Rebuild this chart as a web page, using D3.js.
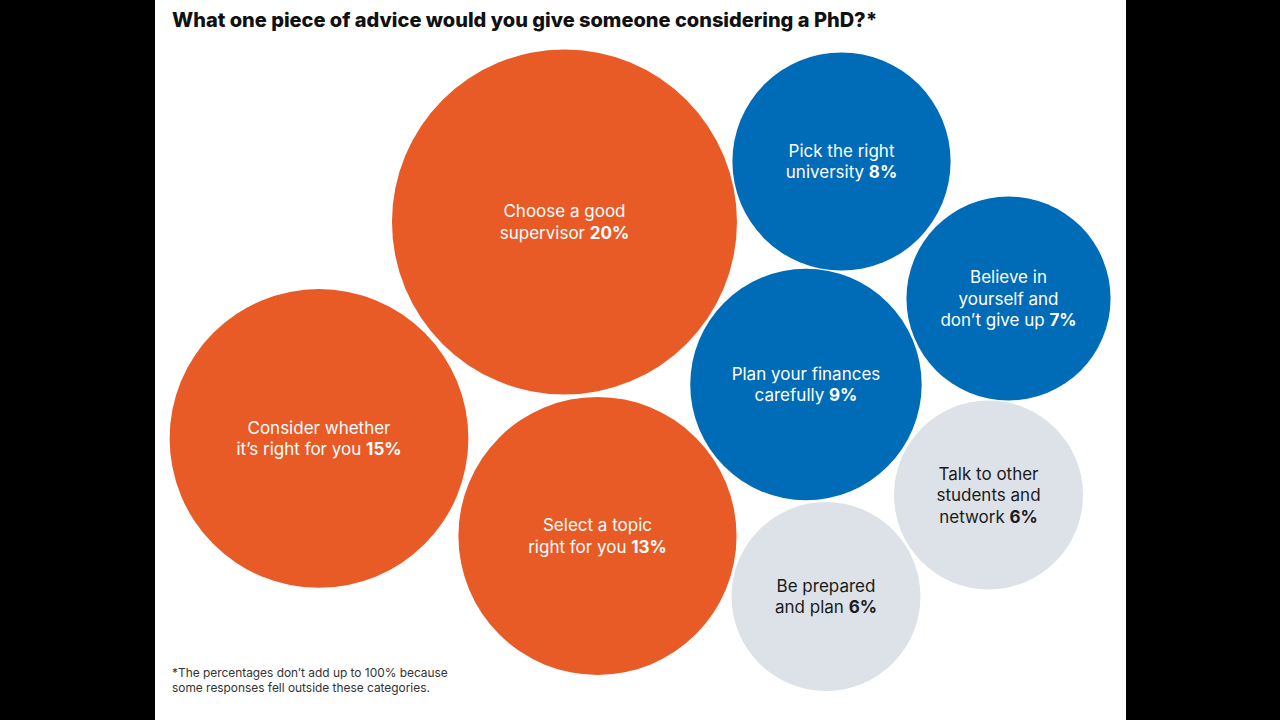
<!DOCTYPE html>
<html>
<head>
<meta charset="utf-8">
<script src="https://cdn.jsdelivr.net/npm/d3@7"></script>
<style>
  html, body { margin: 0; padding: 0; background: #000; }
  svg { display: block; }
</style>
</head>
<body>
<svg width="1280" height="720"></svg>
<script>
// Advice categories, share of responses (%) and colour group
var categories = [
  ["Choose a good", "supervisor"],
  ["Consider whether", "it\u2019s right for you"],
  ["Select a topic", "right for you"],
  ["Pick the right", "university"],
  ["Believe in", "yourself and", "don\u2019t give up"],
  ["Plan your finances", "carefully"],
  ["Talk to other", "students and", "network"],
  ["Be prepared", "and plan"]
];
var values = [20, 15, 13, 8, 7, 9, 6, 6];
var groups = ["orange", "orange", "orange", "blue", "blue", "blue", "grey", "grey"];

// bubble placement in panel units (0-100 across, 0-100 down)
var packX = [42.17, 16.89, 45.57, 70.70, 87.90, 67.04, 85.84, 69.10];
var packY = [30.83, 60.90, 74.44, 22.43, 41.46, 53.40, 68.75, 82.85];

var svg = d3.select("svg"),
  width = +svg.attr("width"),
  height = +svg.attr("height");

var panelLeft = 155, panelRight = 1126;

// white panel between black side bars
svg.append("rect")
  .attr("x", panelLeft)
  .attr("y", 0)
  .attr("width", panelRight - panelLeft)
  .attr("height", height)
  .attr("fill", "#fff");

var x = d3.scaleLinear().domain([0, 100]).range([panelLeft, panelRight]);
var y = d3.scaleLinear().domain([0, 100]).range([0, height]);
var r = d3.scaleSqrt().domain([0, 20]).range([0, 172.5]);

var fill = d3.scaleOrdinal()
  .domain(["orange", "blue", "grey"])
  .range(["#e85b27", "#006bb6", "#dde2e8"]);
var ink = d3.scaleOrdinal()
  .domain(["orange", "blue", "grey"])
  .range(["#ffffff", "#ffffff", "#1a1a1a"]);

var data = categories.map(function(lines, i) {
  return { lines: lines, value: values[i], group: groups[i], px: packX[i], py: packY[i] };
});

var font = "Inter, 'Noto Sans', sans-serif";

// title
svg.append("text")
  .attr("x", 172)
  .attr("y", 27)
  .style("font-family", font)
  .style("font-weight", 800)
  .style("font-size", "20px")
  .attr("fill", "#111")
  .text("What one piece of advice would you give someone considering a PhD?*");

var bubble = svg.append("g")
  .selectAll("g")
  .data(data)
  .enter()
  .append("g")
  .attr("transform", function(d) { return "translate(" + x(d.px) + "," + y(d.py) + ")"; });

bubble.append("circle")
  .attr("r", function(d) { return r(d.value); })
  .attr("fill", function(d) { return fill(d.group); });

var lineH = 21.5;
var label = bubble.append("text")
  .attr("text-anchor", "middle")
  .style("font-family", font)
  .style("font-size", "17px")
  .attr("fill", function(d) { return ink(d.group); });

label.each(function(d) {
  var t = d3.select(this);
  var n = d.lines.length;
  d.lines.forEach(function(line, i) {
    var row = t.append("tspan")
      .attr("x", 0)
      .attr("y", (i - (n - 1) / 2) * lineH + 6)
      .text(line);
    if (i === n - 1) {
      row.text(line + " ");
      t.append("tspan")
        .style("font-weight", 700)
        .text(d.value + "%");
    }
  });
});

// footnote
var note = svg.append("text")
  .style("font-family", font)
  .style("font-size", "11.9px")
  .attr("fill", "#333");
note.append("tspan").attr("x", 172).attr("y", 677)
  .text("*The percentages don\u2019t add up to 100% because");
note.append("tspan").attr("x", 172).attr("y", 692)
  .text("some responses fell outside these categories.");
</script>
</body>
</html>
